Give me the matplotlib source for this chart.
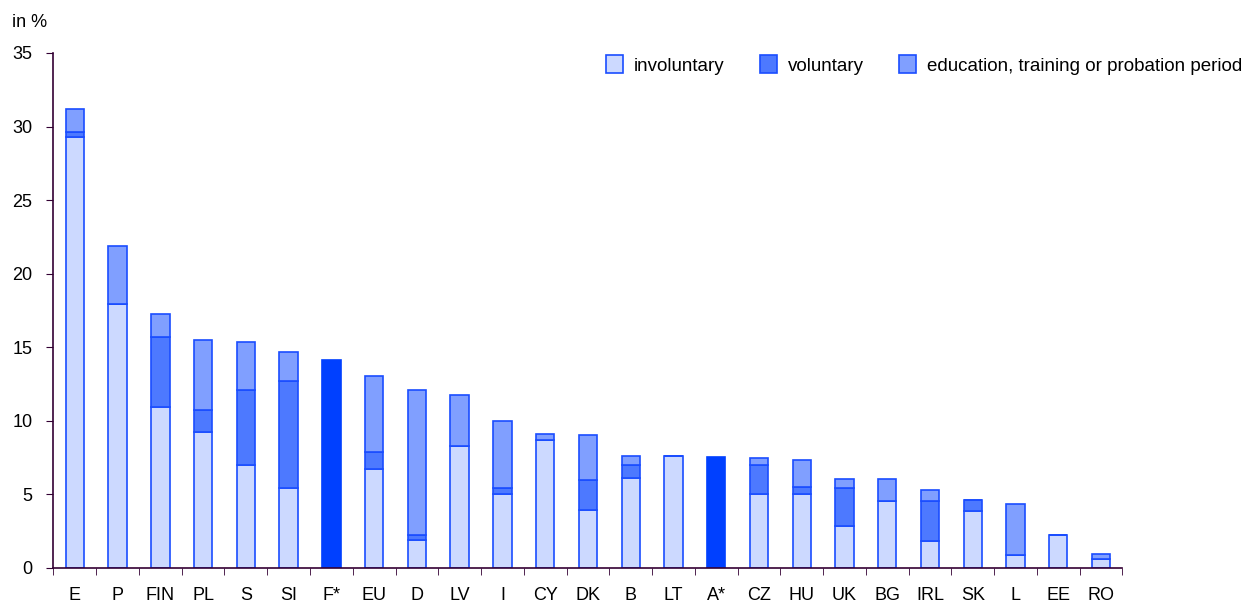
import matplotlib.pyplot as plt
import numpy as np

plt.rcParams['font.family'] = ['Liberation Sans', 'DejaVu Sans']

countries = ['E', 'P', 'FIN', 'PL', 'S', 'SI', 'F*', 'EU', 'D', 'LV', 'I', 'CY', 'DK',
             'B', 'LT', 'A*', 'CZ', 'HU', 'UK', 'BG', 'IRL', 'SK', 'L', 'EE', 'RO']
involuntary = [29.3, 17.9, 10.9, 9.25, 6.95, 5.4, 0, 6.7, 1.85, 8.25, 5.0, 8.7, 3.9,
               6.1, 7.6, 0, 5.0, 5.0, 2.85, 4.55, 1.8, 3.85, 0.85, 2.2, 0.6]
voluntary = [0.3, 0, 4.8, 1.45, 5.1, 7.3, 0, 1.15, 0.4, 0, 0.45, 0, 2.05,
             0.9, 0, 0, 2.0, 0.5, 2.6, 0, 2.75, 0.75, 0, 0, 0]
education = [1.6, 4.0, 1.55, 4.8, 3.3, 2.0, 0, 5.2, 9.8, 3.5, 4.5, 0.4, 3.05,
             0.6, 0, 0, 0.45, 1.8, 0.55, 1.45, 0.75, 0, 3.5, 0, 0.35]
# countries with total only (no breakdown)
total_only = {'F*': 14.15, 'A*': 7.55}

c_inv = '#ccd9ff'
c_vol = '#4d79ff'
c_edu = '#809fff'
c_edge = '#1a4dff'
c_solid = '#0040ff'

fig = plt.figure(figsize=(12.43, 6.02), dpi=100)
ax = fig.add_axes([0.043, 0.057, 0.86, 0.855])

x = np.arange(len(countries))
inv = np.array(involuntary)
vol = np.array(voluntary)
edu = np.array(education)
w = 0.43

ax.bar(x, inv, w, color=c_inv, edgecolor=c_edge, linewidth=1.2, label='involuntary')
ax.bar(x, vol, w, bottom=inv, color=c_vol, edgecolor=c_edge, linewidth=1.2, label='voluntary')
ax.bar(x, edu, w, bottom=inv + vol, color=c_edu, edgecolor=c_edge, linewidth=1.2,
       label='education, training or probation period')
for name, val in total_only.items():
    i = countries.index(name)
    ax.bar(i, val, w, color=c_solid, edgecolor=c_solid, linewidth=1.2)

ax.set_xlim(-0.5, len(countries) - 0.5)
ax.set_ylim(0, 35)
ax.set_yticks(range(0, 36, 5))
ax.set_xticks(x)
ax.set_xticklabels(countries)
ax.set_xticks(np.arange(-0.5, len(countries), 1), minor=True)
ax.tick_params(axis='x', which='major', length=0, pad=14, labelsize=13)
ax.tick_params(axis='x', which='minor', length=5, direction='out', color='#330033')
ax.tick_params(axis='y', length=5, direction='out', color='#330033', labelsize=13, pad=10)

for s in ['top', 'right']:
    ax.spines[s].set_visible(False)
for s in ['left', 'bottom']:
    ax.spines[s].set_color('#330033')
    ax.spines[s].set_linewidth(1.2)

fig.text(0.01, 0.962, 'in %', fontsize=13, va='center')

ax.legend(loc='upper right', bbox_to_anchor=(1.128, 1.028), ncol=3, frameon=False,
          fontsize=13.5, handlelength=0.9, handleheight=1.1, columnspacing=1.9,
          handletextpad=0.58)

fig.savefig('out.png', dpi=100)
